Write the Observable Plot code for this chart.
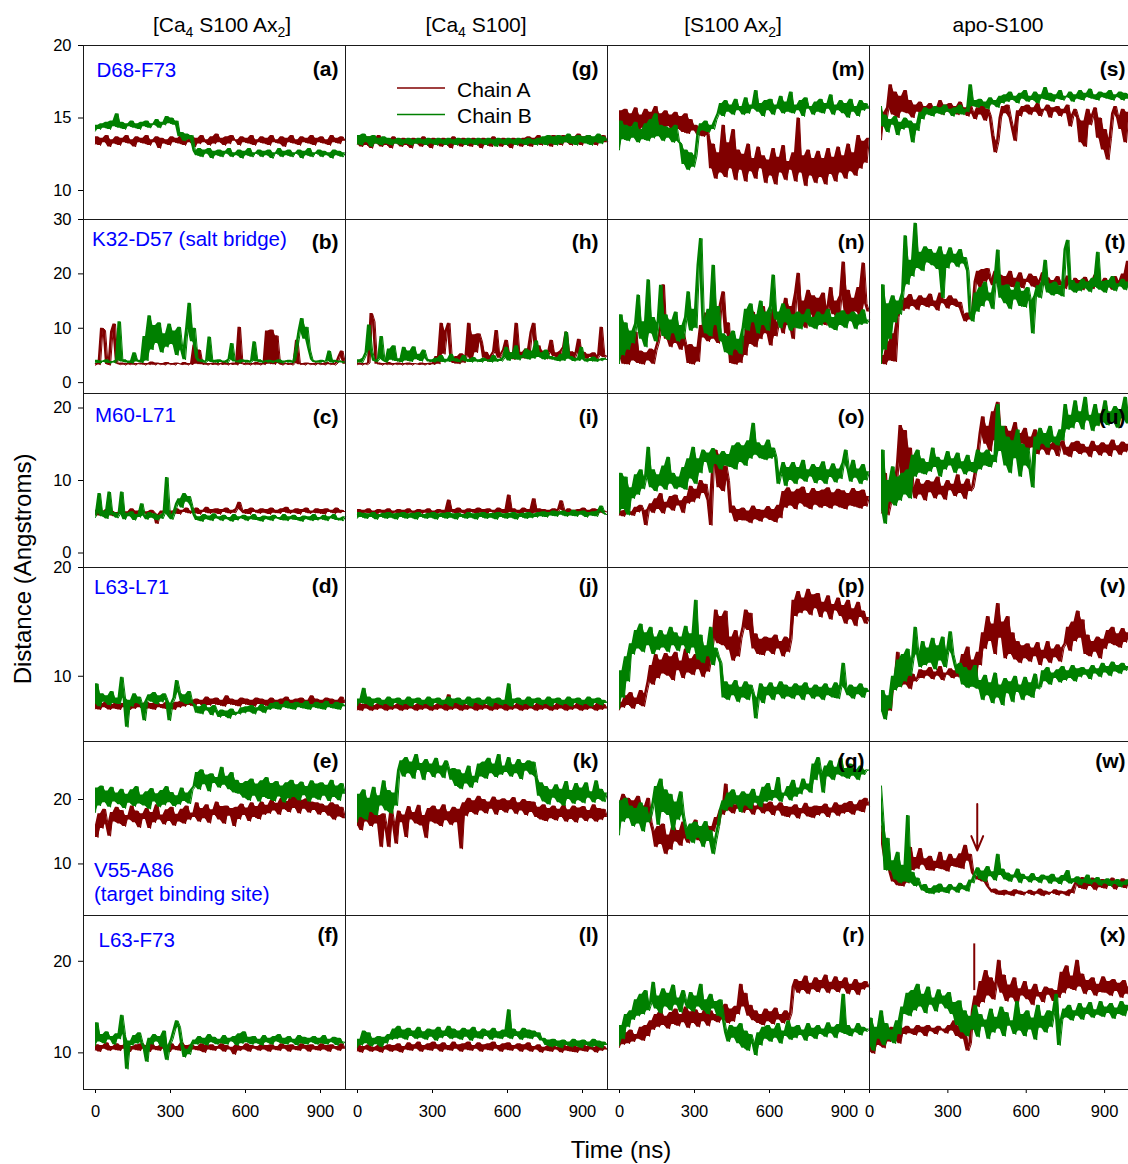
<!DOCTYPE html>
<html>
<head>
<meta charset="utf-8">
<script src="https://cdn.jsdelivr.net/npm/d3@7"></script>
<script src="https://cdn.jsdelivr.net/npm/@observablehq/plot@0.6"></script>
<style>
  html, body { margin: 0; padding: 0; background: #fff; }
  #fig { position: relative; width: 1128px; height: 1164px; overflow: hidden; background: #fff;
         font-family: "Liberation Sans", Arial, sans-serif; }
</style>
</head>
<body>
<div id="fig"></div>
<script>
// ---------------- DATA ----------------
// Sample times (ns): one reading every 10 ns, 0..1000
const TIME_NS = d3.range(0, 1001, 10);

const COLUMN_TITLES = [["[Ca","4"," S100 Ax","2","]"], ["[Ca","4"," S100]"], ["[S100 Ax","2","]"], ["apo-S100"]];
const ROW_LABELS = ["D68-F73", "K32-D57 (salt bridge)", "M60-L71", "L63-L71", "V55-A86\n(target binding site)", "L63-F73"];
const CHAINS = ["Chain A", "Chain B"];
const CHAIN_COLORS = ["#800000", "#008000"];
const PANEL_LETTERS = [["a","b","c","d","e","f"], ["g","h","i","j","k","l"], ["m","n","o","p","q","r"], ["s","t","u","v","w","x"]];
const Y_DOMAINS = [[8,20], [-2,30], [-2,22], [4,20], [2,29], [6,25]];
const Y_TICKS = [[10,15,20], [0,10,20,30], [0,10,20], [10,20], [10,20], [10,20]];
const X_TICKS = [0, 300, 600, 900];
const X_DOMAIN = [-48, 1000];
const X_DOMAIN_PANEL_X = [0, 1003];
const X_LABEL = "Time (ns)";
const Y_LABEL = "Distance (Angstroms)";
const ARROW_W = [{t: 383, from: 19.3, to: 12.1}];
const MARK_X = [{t: 401, from: 16.8, to: 21.9}];

// ---- Row 1: D68-F73 ----
const a_A = [13.2,13.7,13.1,13.6,13.3,13.8,13.0,13.5,13.2,13.7, 13.1,13.6,13.3,13.8,13.2,13.5,13.0,13.7,13.3,13.6, 13.2,13.8,13.1,13.5,13.3,13.7,12.9,13.6,13.2,13.5, 13.1,13.7,13.3,13.6,13.2,13.8,13.1,13.5,13.3,13.7, 13.0,13.6,13.2,13.8,13.3,13.5,13.1,13.7,13.2,13.9, 13.3,13.6,13.1,13.7,13.2,13.8,13.4,13.5,13.1,13.7, 13.3,13.6,13.2,13.8,13.1,13.5,13.3,13.7,13.2,13.6, 13.1,13.8,13.3,13.5,13.2,13.7,13.0,13.6,13.3,13.8, 13.2,13.5,13.1,13.7,13.3,13.6,13.2,13.8,13.1,13.6, 13.3,13.7,13.2,13.5,13.1,13.8,13.3,13.6,13.2,13.7, 13.4];
const a_B = [14.1,14.5,14.2,14.6,14.3,14.7,14.2,14.8,14.4,15.3, 14.3,14.7,14.2,14.6,14.4,14.8,14.3,14.6,14.2,14.7, 14.4,14.8,14.3,14.6,14.5,14.9,14.3,14.7,14.5,15.1, 14.6,15.0,14.5,14.8,13.7,14.0,13.4,13.9,13.5,13.8, 12.7,12.4,12.9,12.3,12.8,12.5,12.9,12.2,12.7,12.4, 12.8,12.3,12.7,12.5,12.9,12.3,12.6,12.4,12.8,12.2, 12.7,12.4,12.9,12.3,12.6,12.5,12.8,12.3,12.7,12.4, 12.8,12.2,12.6,12.5,12.9,12.3,12.7,12.4,12.8,12.3, 12.6,12.5,12.8,12.2,12.7,12.4,12.9,12.3,12.6,12.5, 12.8,12.3,12.7,12.4,12.6,12.2,12.8,12.4,12.7,12.3, 12.6];
const g_A = [13.2,13.8,13.0,13.6,13.1,13.7,12.9,13.5,13.2,13.8, 13.0,13.6,13.1,13.5,12.9,13.7,13.2,13.5,13.0,13.6, 13.1,13.5,12.9,13.6,13.2,13.5,13.0,13.7,13.1,13.5, 12.9,13.6,13.2,13.5,13.0,13.6,13.1,13.5,12.9,13.7, 13.2,13.5,13.0,13.6,13.1,13.5,13.0,13.6,13.2,13.5, 12.9,13.6,13.1,13.5,13.0,13.7,13.2,13.5,13.0,13.6, 13.1,13.5,12.9,13.6,13.2,13.5,13.0,13.6,13.1,13.7, 13.0,13.6,13.2,13.8,13.1,13.6,13.2,13.7,13.0,13.8, 13.2,13.7,13.1,13.8,13.3,13.6,13.1,13.7,13.2,13.9, 13.1,13.7,13.3,13.8,13.2,13.6,13.1,13.7,13.3,13.8, 13.3];
const g_B = [13.2,13.8,13.1,13.9,13.3,13.7,13.0,13.8,13.2,13.6, 13.1,13.7,13.2,13.6,13.1,13.5,13.2,13.6,13.1,13.5, 13.2,13.6,13.1,13.5,13.2,13.6,13.2,13.5,13.1,13.6, 13.2,13.5,13.1,13.6,13.2,13.5,13.1,13.6,13.2,13.5, 13.1,13.6,13.2,13.5,13.1,13.6,13.2,13.5,13.1,13.6, 13.2,13.5,13.1,13.6,13.2,13.5,13.0,13.6,13.2,13.5, 13.1,13.6,13.2,13.5,13.1,13.6,13.2,13.5,13.1,13.6, 13.2,13.5,13.1,13.6,13.2,13.7,13.1,13.8,13.2,13.7, 13.1,13.8,13.2,13.7,13.3,13.9,13.2,13.7,13.1,13.8, 13.3,13.7,13.2,13.8,13.1,13.7,13.3,13.9,13.2,13.7, 13.4];
const m_A = [13.0,15.5,14.2,15.6,14.0,15.3,14.4,15.7,14.1,15.2, 14.3,15.6,14.0,15.4,14.5,15.8,14.2,15.3,14.0,15.5, 14.4,15.2,13.9,15.4,14.2,15.1,14.0,15.3,13.9,14.9, 14.1,14.5,13.8,14.3,13.7,14.4,13.8,11.5,13.2,10.8, 12.6,11.2,14.5,10.9,13.3,11.5,14.2,10.7,12.8,11.4, 12.5,10.6,13.2,11.3,12.2,10.8,13.0,11.5,12.4,10.5, 12.1,11.0,12.9,10.4,12.3,11.2,13.1,10.7,12.0,11.4, 12.6,10.6,15.0,11.2,12.4,10.3,12.8,11.0,12.2,10.5, 12.7,10.9,12.2,10.4,12.9,11.1,12.3,10.6,13.0,11.2, 12.4,10.8,13.2,11.3,12.6,11.0,13.8,11.5,13.4,11.9, 13.6];
const m_B = [12.8,14.8,13.5,14.5,13.4,14.4,13.6,14.7,13.3,14.2, 13.5,14.6,13.4,14.9,13.6,15.3,13.7,14.5,13.4,14.4, 13.6,14.3,13.3,14.5,13.4,13.2,11.8,12.8,11.4,12.6, 11.6,12.4,14.0,14.6,14.1,14.8,14.0,14.5,14.2,14.9, 15.3,16.0,15.1,16.2,15.4,15.9,15.2,16.3,15.5,15.8, 15.2,16.4,15.3,15.9,15.6,16.9,15.4,16.0,15.1,16.2, 15.5,16.3,15.2,15.9,15.6,16.5,15.3,16.1,15.4,16.8, 15.3,15.9,15.5,16.2,15.1,16.4,15.6,15.8,15.2,16.1, 15.4,16.3,15.3,16.0,15.6,16.6,15.2,15.9,15.5,16.2, 15.3,16.0,15.0,16.3,15.4,15.8,15.1,16.2,15.5,16.0, 15.6];
const s_A = [13.5,15.4,14.6,15.7,17.3,15.2,16.8,15.0,16.5,15.4, 16.9,15.3,16.2,15.0,15.9,15.4,16.1,15.2,15.8,15.5, 16.0,15.3,15.7,15.5,16.2,15.2,15.9,15.4,16.0,15.3, 15.8,15.2,16.1,15.4,15.7,15.1,15.9,15.3,14.9,15.7, 15.2,15.9,14.8,15.6,15.1,13.8,12.6,13.4,15.0,15.8, 15.3,15.9,15.0,14.2,13.4,15.5,15.1,15.8,15.4,15.9, 15.2,15.7,15.4,16.0,15.1,15.6,15.5,15.9,15.0,15.7, 15.4,15.8,15.1,15.6,15.3,15.9,14.4,15.2,15.6,15.0, 13.3,14.8,13.0,15.6,14.5,15.2,15.7,13.6,15.0,12.8, 14.2,12.1,13.6,15.3,15.8,15.0,14.2,15.6,13.3,15.4, 15.1];
const s_B = [15.8,14.4,15.2,14.0,14.9,14.5,15.1,13.8,14.7,14.2, 15.0,14.3,14.8,13.3,14.6,14.1,15.4,14.9,15.7,15.2, 15.6,15.1,15.8,15.3,15.7,15.2,15.9,15.4,15.6,15.1, 15.7,15.3,15.9,15.2,15.6,15.4,17.3,15.8,16.2,15.7, 16.3,15.8,16.1,15.6,16.4,15.9,16.2,15.7,16.5,16.0, 16.6,16.1,16.8,16.2,16.5,16.0,16.7,16.3,16.9,16.1, 16.5,16.2,16.8,16.0,16.6,16.3,17.1,16.2,16.7,16.1, 16.6,16.3,16.9,16.2,16.5,16.4,16.8,16.1,16.6,16.3, 16.9,16.2,16.7,16.4,17.0,16.3,16.6,16.2,16.8,16.4, 16.7,16.3,16.9,16.2,16.6,16.4,16.8,16.2,16.7,16.3, 16.6];

// ---- Row 2: K32-D57 (salt bridge) ----
const b_A = [3.2,3.5,3.3,10.0,9.6,3.4,3.2,9.3,10.8,3.5, 3.3,3.6,3.2,3.5,3.3,3.7,3.2,3.5,3.4,3.6, 3.2,3.5,3.3,3.8,3.2,3.6,3.3,3.5,3.2,3.7, 3.3,3.5,3.2,3.6,3.4,3.3,3.7,3.2,3.5,3.3, 6.9,3.4,6.0,3.3,3.6,3.2,3.5,3.3,3.6,3.2, 3.5,3.3,3.7,3.2,3.5,3.3,3.6,3.2,10.2,3.4, 3.3,3.6,3.2,3.5,3.3,3.7,3.2,3.5,3.3,9.5, 3.4,9.7,3.3,8.6,3.5,3.2,3.6,3.3,3.5,3.2, 3.6,7.8,3.3,3.5,3.2,3.6,3.3,3.5,3.2,3.6, 3.3,3.5,3.2,3.7,3.3,3.5,3.2,3.6,4.8,5.8, 3.4];
const b_B = [3.6,4.1,3.5,4.0,3.7,4.2,3.5,3.9,3.6,4.1, 11.2,3.8,4.2,3.6,4.0,3.5,5.5,3.8,4.1,3.6, 8.5,4.0,12.3,6.0,10.5,7.2,11.0,5.5,9.0,6.5, 10.8,7.0,9.5,5.0,10.2,6.0,4.2,9.8,14.6,7.5, 10.0,4.5,3.8,4.2,3.6,4.0,8.4,3.7,4.1,3.6, 4.2,3.7,4.0,3.6,4.3,7.2,3.8,4.0,3.6,4.2, 3.7,4.1,3.6,4.0,7.5,3.8,4.2,3.6,4.0,3.7, 4.1,3.6,4.0,3.7,4.2,3.5,4.0,3.7,4.1,3.6, 4.0,6.5,9.5,11.8,8.0,10.2,6.0,4.2,3.7,4.0, 3.6,4.1,3.7,4.0,5.8,3.6,4.1,3.7,4.0,3.6, 3.9];
const h_A = [3.3,3.6,3.2,3.5,3.3,3.6,12.7,11.2,3.4,3.6, 3.2,3.5,3.3,3.7,3.2,3.5,3.3,3.6,3.2,3.5, 3.3,3.6,3.2,3.5,3.4,3.3,3.6,3.2,3.5,3.3, 3.6,3.3,4.8,3.4,10.9,5.2,9.5,10.9,4.0,3.5, 4.8,3.4,5.3,3.6,5.0,10.9,4.2,8.8,5.5,9.0, 7.5,4.5,5.6,3.8,4.9,5.7,9.6,4.5,5.2,6.0, 7.8,4.6,5.5,4.2,10.9,5.0,5.6,4.4,6.2,5.1, 9.2,10.9,5.5,6.8,4.6,5.8,4.3,5.6,7.8,4.8, 5.5,4.4,5.8,6.5,9.3,4.6,5.7,4.3,5.5,8.0, 4.7,5.6,4.3,5.2,4.6,5.5,4.2,5.0,10.2,4.6, 5.0];
const h_B = [3.7,4.2,3.6,4.5,5.5,10.6,6.0,4.0,3.8,4.4, 8.5,4.0,3.7,6.2,4.1,6.8,3.9,4.4,3.7,6.5, 4.0,5.8,3.8,6.6,4.2,5.2,3.9,6.0,4.4,3.8, 4.2,3.7,4.5,3.8,5.0,3.7,4.3,3.8,5.2,3.9, 4.4,3.7,4.1,5.0,3.8,4.3,3.7,4.6,3.8,4.2, 3.7,4.5,3.9,4.2,3.7,5.0,3.8,4.3,3.9,4.6, 6.5,4.0,5.5,4.3,6.8,4.1,5.0,4.5,6.2,4.2, 5.8,4.4,7.7,4.6,5.5,4.2,6.0,4.3,4.8,4.1, 4.6,3.9,5.2,4.0,9.3,4.3,4.8,3.9,4.5,4.0, 6.5,4.2,3.8,4.4,3.9,4.7,3.8,4.3,4.0,4.5, 4.1];
const n_A = [5.0,9.0,3.4,8.2,3.3,7.5,4.0,9.3,3.5,5.8, 3.3,5.5,4.0,6.2,3.4,5.9,7.5,10.0,18.0,8.0, 10.5,6.5,9.8,7.2,10.2,6.0,9.0,6.8,3.5,7.0, 3.3,6.5,3.8,10.5,8.2,12.8,7.5,13.5,8.0,12.0, 7.2,14.5,16.7,9.0,11.0,3.5,7.0,3.3,6.0,3.6, 8.5,5.0,11.5,7.0,13.0,6.5,10.5,8.0,14.0,9.0, 12.0,6.8,13.5,8.5,11.0,13.0,9.0,15.5,10.5,14.0, 8.0,16.5,20.1,11.0,15.0,10.0,17.0,12.5,16.0,10.5, 15.5,11.0,16.5,10.5,14.0,17.5,12.5,15.0,11.0,16.0, 22.2,12.5,17.0,11.5,15.5,13.0,17.5,12.0,22.0,14.5, 13.0];
const n_B = [3.5,12.5,5.0,11.0,6.0,9.5,7.2,10.8,16.1,8.0, 11.2,6.5,18.9,9.0,12.0,7.5,11.0,17.9,8.5,12.5, 7.8,11.5,9.0,13.0,7.5,10.5,8.0,12.0,16.7,9.5, 13.5,10.0,21.6,26.5,11.0,9.0,13.5,8.5,21.6,10.5, 14.0,7.5,9.0,5.5,8.5,5.0,9.5,6.0,8.0,5.2, 10.0,13.5,9.5,14.5,11.0,12.5,9.0,15.0,10.5,13.0, 9.5,14.0,19.8,11.5,13.0,10.0,14.5,11.0,13.5,9.5, 12.5,10.0,13.0,9.8,12.5,11.0,13.5,10.2,12.0,9.8, 13.0,10.5,12.5,11.0,13.5,10.0,12.0,9.6,12.8,10.5, 13.2,10.0,12.5,11.2,13.0,9.8,12.5,10.6,13.4,10.8, 11.5];
const t_A = [3.5,5.0,3.3,7.5,4.0,9.0,3.8,12.0,14.8,13.2, 15.5,13.5,16.2,14.0,15.2,13.3,16.0,14.2,15.5,13.8, 16.3,14.0,15.0,13.2,16.5,14.5,15.3,13.6,16.0,14.2, 15.4,13.8,14.8,12.5,11.2,12.8,11.5,13.0,18.5,20.5, 17.5,20.8,18.5,21.0,19.0,17.8,20.5,18.2,19.8,17.4, 19.5,17.8,20.5,17.5,19.2,18.0,20.2,17.3,19.0,18.4, 20.0,17.6,19.5,17.2,18.8,20.2,17.8,19.3,17.5,18.8, 17.0,19.5,17.8,18.5,17.2,19.6,18.0,17.4,19.2,17.6, 18.8,17.0,19.4,17.5,18.6,17.2,19.8,17.6,18.5,17.3, 19.2,17.7,18.4,17.0,19.5,17.8,18.7,20.0,17.6,22.3, 18.5];
const t_B = [3.5,18.0,6.0,14.5,8.0,16.0,11.0,15.0,12.5,16.5, 27.0,18.0,22.5,19.5,29.3,21.0,24.0,20.5,25.0,22.0, 24.5,21.5,23.8,20.8,25.0,15.5,23.5,21.0,24.8,22.0, 23.6,21.2,24.5,21.8,23.0,20.5,12.5,11.2,16.5,13.0, 17.5,14.0,18.5,15.0,16.5,13.5,19.0,24.4,15.5,17.8, 14.5,18.0,13.5,17.0,15.2,18.5,14.0,16.8,13.8,17.5, 15.0,9.0,16.0,17.8,15.5,18.5,22.5,16.5,18.2,16.0, 18.5,16.2,17.8,15.8,24.5,26.2,17.0,18.8,16.5,18.2, 16.8,19.0,17.2,18.5,16.6,19.2,17.5,24.0,17.0,18.6, 16.5,18.8,17.4,19.5,16.8,18.2,17.6,19.0,17.0,18.5, 17.8];

// ---- Row 3: M60-L71 ----
const c_A = [5.3,5.9,5.1,5.7,5.4,6.0,5.2,5.8,5.0,5.6, 5.4,5.9,5.2,5.7,5.5,6.1,5.3,5.8,5.1,5.9, 5.4,5.7,5.2,5.9,5.5,4.0,5.3,5.8,5.5,6.0, 5.2,5.8,5.4,6.1,5.3,5.9,5.6,6.2,5.4,5.8, 5.5,6.2,5.3,5.9,5.6,6.3,5.4,6.0,5.5,6.1, 5.3,6.0,5.6,6.2,5.4,5.9,5.5,6.1,7.0,5.8, 5.4,6.0,5.3,6.2,5.6,5.9,5.4,6.1,5.5,6.0, 5.3,6.2,5.5,5.9,5.4,6.1,5.6,6.3,5.4,5.9, 5.5,6.1,5.3,6.0,5.6,6.2,5.4,5.8,5.5,6.1, 5.4,6.0,5.3,6.1,5.6,5.9,5.4,6.2,5.5,5.9, 5.6];
const c_B = [4.9,5.6,8.2,5.0,5.8,4.7,8.4,5.2,5.6,4.8, 5.4,8.4,4.6,5.5,5.0,5.7,4.5,5.3,4.9,6.8, 5.1,4.6,5.6,4.8,5.4,4.5,5.2,4.7,5.5,10.4, 5.0,4.6,5.6,6.8,7.5,6.2,8.2,7.0,7.8,6.4, 5.2,4.5,5.0,4.3,5.3,4.6,5.1,4.4,5.4,4.7, 5.0,4.4,5.2,4.6,4.9,4.3,5.3,4.5,5.0,4.7, 5.2,4.4,5.0,4.6,5.3,4.5,4.9,4.3,5.1,4.6, 5.0,4.4,5.2,4.7,4.9,4.5,5.3,4.4,5.0,4.6, 5.2,4.5,4.9,4.3,5.1,4.6,5.0,4.4,5.3,4.5, 4.9,4.6,5.2,4.4,5.0,4.7,5.3,4.5,4.8,4.4, 5.0];
const i_A = [5.4,6.0,5.3,5.9,5.5,6.1,5.4,5.8,5.3,6.0, 5.5,5.9,5.3,6.1,5.4,5.8,5.5,6.0,5.3,5.9, 5.4,6.1,5.5,5.8,5.3,6.0,5.4,5.9,5.5,6.1, 5.3,5.8,5.4,6.0,5.5,5.9,5.4,7.3,5.6,6.0, 5.4,6.2,5.5,5.9,5.3,6.1,5.6,6.0,5.4,6.2, 5.5,6.0,5.3,6.1,5.6,5.9,5.4,6.2,5.5,6.0, 5.4,8.0,5.6,6.1,5.5,5.9,5.3,6.2,5.6,6.0, 5.4,7.5,5.5,6.1,5.3,6.0,5.6,5.9,5.4,6.1, 5.5,6.0,7.2,5.8,5.4,6.1,5.5,5.9,5.3,6.0, 5.5,6.2,5.4,5.9,5.6,6.1,5.3,6.0,5.5,5.8, 5.6];
const i_B = [4.8,5.6,4.9,5.5,4.7,5.4,4.9,5.6,4.6,5.3, 4.9,5.5,4.7,5.6,4.8,5.4,4.6,5.5,4.9,5.6, 4.7,5.4,4.8,5.5,4.6,5.6,4.9,5.3,4.7,5.5, 4.8,5.6,4.6,5.4,4.9,5.5,4.7,5.6,4.8,5.4, 4.6,5.5,4.9,5.3,4.7,5.6,4.8,5.4,4.6,5.5, 4.9,5.6,4.7,5.4,4.8,5.5,4.6,5.6,4.9,5.4, 4.7,5.5,4.8,5.6,4.6,5.4,4.9,5.5,4.7,5.6, 4.8,5.4,4.9,5.6,5.0,5.7,4.9,5.6,5.1,5.8, 5.0,5.7,5.2,5.8,5.0,5.6,5.1,5.9,5.0,5.7, 5.2,5.8,4.9,5.6,5.1,5.7,5.0,5.8,6.5,5.5, 5.2];
const o_A = [5.2,5.8,5.0,5.9,5.3,5.7,5.1,6.3,5.6,6.6, 5.8,3.8,6.0,6.8,5.5,7.5,6.0,8.2,5.4,7.0, 6.2,7.8,5.8,8.0,6.5,7.2,5.5,7.8,6.8,9.2, 7.0,8.8,7.5,10.0,8.2,9.5,7.2,3.8,12.5,14.2, 9.0,13.5,8.5,12.0,10.0,5.5,6.5,4.3,6.0,4.5, 6.2,4.4,5.8,4.1,6.5,4.6,6.0,4.3,5.9,4.8, 6.4,4.5,6.0,4.2,6.6,4.8,8.5,6.2,9.0,6.5, 8.4,6.0,8.8,6.8,9.1,6.3,8.2,6.0,8.9,6.6, 8.5,6.2,8.7,6.4,9.0,6.1,8.3,6.5,8.8,6.2, 8.6,6.0,8.2,6.5,8.9,6.3,8.5,6.1,8.7,6.4, 7.8];
const o_B = [5.5,11.0,6.0,10.5,5.2,9.0,7.5,10.8,8.0,11.5, 8.8,10.5,14.6,9.0,11.5,8.5,10.8,9.2,12.0,8.7, 13.2,9.5,11.0,8.8,10.5,9.0,11.8,8.7,13.0,10.2, 14.6,9.5,13.0,11.0,14.2,12.5,13.8,11.0,14.4,12.2, 13.5,11.5,14.0,12.0,13.6,11.8,14.8,11.5,15.2,12.5, 14.8,12.0,15.5,13.0,17.9,13.5,15.2,13.0,14.8,12.8, 15.6,13.0,14.5,13.2,9.5,11.0,12.5,9.2,11.8,10.0, 12.5,9.5,11.8,10.2,12.8,9.8,11.5,10.5,12.2,9.6, 11.8,10.0,12.6,9.5,11.5,10.4,12.3,9.7,11.6,10.2, 12.4,14.2,11.5,9.8,12.8,10.3,11.6,9.5,12.2,10.0, 11.2];
const u_A = [5.5,6.5,11.0,5.2,6.8,9.0,7.0,12.5,17.6,10.0, 16.9,8.5,14.5,9.0,7.5,10.2,8.0,9.5,7.2,10.0, 8.3,9.8,7.5,10.5,8.0,9.2,7.3,10.0,8.6,9.5, 7.8,10.8,8.2,9.5,7.4,10.2,8.5,9.0,11.0,13.5, 16.5,18.8,15.0,17.5,14.0,19.5,15.5,20.8,16.0,14.5, 17.5,14.0,16.8,15.2,18.0,13.8,16.5,15.0,17.2,14.2, 16.0,14.5,17.0,13.6,15.5,14.2,15.8,13.5,15.0,14.2, 15.6,13.3,14.8,15.5,13.5,14.6,13.2,15.2,14.0,15.4, 13.6,15.0,13.8,14.6,13.2,15.4,14.0,14.8,13.4,15.2, 13.8,14.9,13.3,15.6,14.1,14.8,13.5,15.3,13.9,15.0, 14.2];
const u_B = [6.0,14.2,4.0,10.0,7.0,11.9,6.5,10.5,7.2,11.0, 8.0,11.5,7.5,13.5,10.5,14.2,11.0,13.0,10.8,12.5, 11.2,14.5,11.8,13.2,10.5,12.8,11.5,14.0,12.0,13.0, 11.0,13.8,11.6,12.6,10.8,13.5,11.2,12.5,11.0,14.2, 11.5,13.8,12.0,14.2,11.8,13.5,12.5,20.5,14.0,17.5, 12.0,16.0,11.0,15.5,13.0,17.0,10.5,15.0,12.0,14.5, 11.5,9.0,16.0,14.2,17.2,15.0,16.5,14.5,17.5,15.2, 16.0,14.8,17.0,15.5,20.5,17.0,19.0,17.2,21.0,18.0, 19.5,17.0,21.5,18.2,19.0,16.8,20.5,17.5,19.2,18.0, 21.0,17.6,19.5,18.0,20.2,17.2,19.8,18.5,21.5,17.8, 19.0];

// ---- Row 4: L63-L71 ----
const d_A = [7.0,7.6,6.9,7.5,7.1,7.7,6.9,7.4,7.0,7.6, 6.9,7.5,7.1,7.6,6.9,7.4,7.0,7.7,7.1,7.5, 6.9,7.6,7.0,7.5,6.9,7.7,7.1,7.4,7.0,7.6, 7.0,7.5,6.9,7.6,7.1,7.7,7.2,7.9,7.3,7.8, 7.2,7.9,7.4,7.8,7.2,8.1,7.3,7.9,7.4,8.0, 7.3,7.8,7.2,8.2,7.4,7.9,7.3,7.8,7.2,8.0, 7.4,7.9,7.3,7.8,7.2,8.0,7.4,7.9,7.3,7.8, 7.2,8.0,7.4,7.8,7.3,7.9,7.2,8.1,7.4,7.8, 7.3,7.9,7.2,8.0,7.4,7.8,7.3,8.2,7.2,7.9, 7.4,7.8,7.3,8.0,7.2,7.9,7.4,7.8,7.3,8.1, 7.5];
const d_B = [7.5,9.3,7.2,8.4,7.6,8.2,7.3,8.6,7.5,8.0, 7.4,9.9,8.0,5.3,7.8,7.2,8.4,7.5,8.1,7.3, 5.9,7.8,8.3,7.6,8.5,7.4,8.2,7.6,8.4,7.8, 5.9,7.5,8.0,9.6,8.5,7.6,8.3,7.4,8.6,7.5, 7.4,6.6,7.2,6.5,7.4,6.8,7.1,6.4,7.3,6.7, 6.2,6.9,6.3,6.8,6.1,7.0,6.4,6.7,6.5,7.1, 6.6,7.2,6.7,7.3,6.5,7.1,6.8,7.4,6.6,7.2, 6.9,7.5,7.0,7.6,6.9,7.4,7.1,7.7,7.0,7.5, 6.9,7.6,7.1,7.5,7.0,7.7,6.9,7.4,7.1,7.6, 7.0,7.5,6.9,7.7,7.1,7.4,7.0,7.6,6.9,7.5, 7.2];
const j_A = [6.9,7.5,6.8,7.4,7.0,7.6,6.8,7.3,6.9,7.5, 7.0,7.4,6.8,7.6,6.9,7.3,7.0,7.5,6.8,7.4, 6.9,7.6,7.0,7.3,6.8,7.5,6.9,7.4,7.0,7.6, 6.8,7.3,6.9,7.5,7.0,7.4,6.8,8.3,6.9,7.5, 7.0,7.6,6.8,7.4,6.9,7.3,7.0,7.5,6.8,7.6, 6.9,7.4,7.0,7.3,6.8,7.5,6.9,7.6,7.0,7.4, 6.8,7.5,6.9,7.3,7.0,7.6,6.8,7.4,6.9,7.5, 7.0,7.3,6.8,7.6,6.9,7.4,7.0,7.5,6.8,7.3, 6.9,7.6,7.0,7.4,6.8,7.5,6.9,7.3,7.0,7.6, 6.8,7.4,6.9,7.5,7.0,7.3,6.8,7.6,6.9,7.4, 7.0];
const j_B = [7.3,7.9,7.5,8.9,7.4,8.1,7.2,7.9,7.5,8.0, 7.3,7.8,7.4,8.1,7.2,7.9,7.5,8.0,7.3,7.8, 7.4,8.1,7.2,7.9,7.5,8.0,7.3,7.8,7.4,8.1, 7.2,7.9,7.5,8.0,7.3,7.8,7.4,8.1,7.2,7.9, 7.5,8.0,7.3,7.8,7.4,8.1,7.2,7.9,7.5,8.0, 7.3,7.8,7.4,8.1,7.2,7.9,7.5,8.0,7.3,7.8, 7.4,9.3,7.2,7.9,7.5,8.0,7.3,7.8,7.4,8.1, 7.2,7.9,7.5,8.0,7.3,7.8,7.4,8.1,7.2,7.9, 7.5,8.0,7.3,7.8,7.4,8.1,7.2,7.9,7.5,8.0, 7.3,7.8,7.4,8.1,7.2,7.9,7.5,8.0,7.3,7.8, 7.5];
const p_A = [6.9,7.6,7.1,8.2,7.3,8.5,7.0,8.0,7.4,8.7, 7.2,8.4,9.5,11.0,9.2,12.0,9.8,11.5,10.2,12.1, 10.0,11.8,9.6,12.2,10.5,11.4,9.8,12.5,10.3,11.6, 10.1,12.0,10.6,11.5,9.9,12.3,10.4,11.8,13.5,16.1, 13.0,15.5,12.8,16.0,12.4,13.6,11.4,14.2,11.8,13.5, 14.5,16.1,14.2,15.8,12.5,13.9,12.0,13.4,11.9,13.6, 12.3,13.5,12.0,13.8,12.5,13.2,11.8,13.6,12.2,13.4, 17.0,15.5,17.8,15.8,17.2,16.0,18.0,15.6,17.5,16.2, 17.6,15.4,16.8,15.9,17.4,15.2,16.6,16.0,17.2,15.5, 16.5,14.8,17.0,15.2,16.2,14.6,16.8,15.4,16.0,14.8, 15.4];
const p_B = [7.0,10.5,8.0,11.8,9.5,13.0,12.0,14.2,12.5,14.8, 12.2,14.0,12.8,14.5,12.0,13.6,12.4,14.2,12.6,13.8, 12.2,14.5,12.8,14.0,12.3,13.6,12.8,14.6,12.1,13.9, 12.6,17.0,11.5,13.8,11.2,12.8,11.8,14.5,11.0,12.6, 11.8,11.2,8.0,9.5,7.8,9.2,8.2,9.6,7.6,9.0, 8.0,9.5,7.8,9.2,8.4,6.1,8.0,9.3,7.5,9.0, 8.2,9.4,7.8,9.0,8.3,9.5,7.9,9.2,8.1,9.0, 7.9,9.3,8.2,9.1,7.8,9.4,8.3,8.9,7.9,9.2, 8.1,9.0,7.8,9.3,8.2,8.9,8.0,9.4,7.9,9.1, 11.2,8.8,8.2,9.2,7.9,9.0,8.3,9.3,8.0,8.9, 8.5];
const v_A = [7.0,8.0,6.3,7.8,6.8,9.5,8.8,12.2,9.0,10.5, 9.2,11.0,8.8,10.2,9.5,9.8,10.6,9.8,10.5,10.0, 10.8,9.7,10.4,10.0,10.9,9.6,10.3,10.1,10.7,9.8, 10.5,9.9,10.8,12.0,9.2,12.7,10.0,11.5,9.4,12.2, 11.0,14.0,12.5,15.5,13.2,14.8,12.0,16.7,13.5,15.0, 11.6,15.5,12.0,14.0,11.5,13.2,11.2,12.8,11.6,13.0, 11.3,12.6,11.8,13.1,11.0,12.4,11.6,13.2,11.2,12.5, 11.7,12.9,11.3,12.6,13.0,14.5,12.3,15.0,13.2,16.0, 13.5,15.2,12.0,13.8,11.8,13.2,12.2,13.6,11.6,13.4, 12.5,14.2,13.0,14.5,12.8,13.9,12.6,14.4,13.1,14.0, 13.5];
const v_B = [6.8,8.7,6.0,8.2,7.0,10.0,8.7,11.5,9.0,12.0, 9.5,12.5,10.0,11.6,14.5,12.0,10.8,13.2,11.0,12.6, 11.2,13.5,10.6,12.8,11.4,13.6,10.8,12.4,14.1,12.0, 11.0,10.2,11.2,9.2,10.8,8.9,10.5,9.0,11.0,8.8, 9.6,7.8,10.1,8.2,9.4,7.5,10.3,8.0,9.2,7.3, 9.8,8.4,9.5,7.6,10.0,8.5,9.2,7.8,9.9,8.2, 9.4,8.0,10.2,8.8,9.0,10.5,9.5,10.8,9.2,10.3, 9.8,10.6,9.4,10.9,9.6,10.5,9.8,11.0,9.5,10.7, 9.9,10.8,10.1,10.6,9.7,11.0,10.2,10.7,9.9,11.2, 10.3,10.9,10.0,11.3,10.4,11.0,10.2,11.2,10.5,10.9, 10.8];

// ---- Row 5: V55-A86 (target binding site) ----
const e_A = [16.0,14.1,17.8,15.5,18.5,16.2,14.3,18.0,16.5,18.8, 16.2,18.3,15.8,17.5,16.8,19.0,16.4,18.2,15.6,17.8, 16.9,18.6,15.5,18.0,16.4,19.2,16.8,17.6,16.1,18.4, 16.6,18.8,15.9,17.7,16.5,18.5,16.2,19.0,16.8,17.9, 17.2,19.5,16.5,18.6,17.0,19.2,16.3,18.4,17.5,19.6, 16.8,18.9,16.2,19.0,17.4,18.6,15.8,18.8,16.9,19.3, 17.5,18.7,16.6,19.5,17.2,18.9,16.9,19.6,17.6,19.1, 17.8,19.9,18.2,19.4,17.6,20.2,18.4,19.7,18.0,20.6, 18.6,20.3,17.8,19.9,18.5,20.1,17.9,19.6,18.3,19.5, 17.6,19.3,18.0,19.0,17.4,19.5,16.8,19.2,17.3,18.8, 17.0];
const e_B = [18.0,21.8,19.0,22.1,19.5,21.3,18.8,21.9,19.6,21.0, 19.2,21.6,18.6,20.8,19.4,21.5,18.9,22.0,19.3,20.7, 19.0,21.2,18.5,21.7,19.6,20.9,18.8,21.4,19.1,22.0, 19.5,21.1,18.9,20.6,19.2,21.8,19.7,21.0,19.3,21.5, 22.0,24.2,21.5,24.6,22.3,23.8,21.2,24.0,22.5,23.4, 21.8,25.0,22.2,23.6,21.5,24.2,21.0,23.0,20.8,22.5, 20.2,22.8,19.8,23.2,20.5,22.4,19.6,22.9,20.3,23.4, 20.0,22.5,19.7,22.8,20.4,22.1,19.5,22.6,20.1,23.0, 20.3,22.3,19.8,22.7,20.6,22.0,19.6,22.9,20.2,22.4, 19.9,22.6,20.5,22.2,19.7,23.0,20.3,22.1,19.8,22.5, 20.8];
const k_A = [16.0,18.8,15.2,17.9,16.5,19.0,15.8,18.2,16.2,17.5, 12.6,17.8,15.5,12.6,18.5,16.0,13.1,18.2,16.4,17.6, 14.1,18.9,16.8,18.0,16.2,19.1,15.9,17.5,14.0,18.6, 16.5,19.0,16.2,18.4,15.8,19.2,16.7,18.1,16.0,18.8, 16.4,18.5,12.3,19.5,17.4,20.2,18.0,19.8,17.6,20.5, 18.2,20.0,17.8,19.6,18.5,20.4,17.6,19.9,18.3,20.1, 17.9,19.8,18.4,20.3,17.7,19.5,18.2,20.0,17.5,19.7, 18.0,19.6,17.2,18.8,16.8,19.2,16.6,18.6,17.0,19.0, 16.7,18.5,17.2,19.1,16.5,18.4,16.9,19.0,16.4,18.7, 17.1,18.9,16.6,18.3,17.0,19.2,16.5,18.6,16.8,18.5, 17.2];
const k_B = [16.5,20.8,17.2,21.5,16.8,20.2,18.0,21.9,17.5,20.6, 19.0,22.9,18.2,21.4,17.8,21.0,19.0,24.5,26.0,23.5, 26.5,24.0,25.8,23.2,27.0,24.5,25.6,23.0,26.2,24.2, 25.5,23.4,26.4,24.0,25.2,23.3,26.0,24.6,23.0,24.8, 22.0,24.6,21.6,24.0,22.4,25.2,21.8,23.6,22.6,25.5, 23.5,25.8,23.2,26.4,24.0,25.5,23.4,27.0,23.8,25.2, 24.2,26.5,23.5,25.4,24.0,26.2,23.1,25.6,24.4,26.0, 23.8,25.8,23.4,20.5,22.6,19.6,22.0,19.2,21.5,20.2, 22.3,19.5,21.6,19.0,22.8,20.0,21.4,19.3,22.5,19.8, 21.8,19.4,22.6,20.2,21.2,19.5,22.9,20.0,21.6,19.6, 21.0];
const q_A = [19.5,17.2,20.8,18.0,20.2,17.5,19.8,16.8,20.5,18.2, 19.0,17.0,20.2,16.5,15.0,12.6,15.8,13.0,16.2,11.5, 14.5,12.2,16.0,13.4,15.2,12.8,16.5,14.0,13.2,16.0, 14.5,16.8,13.6,15.5,13.0,16.2,14.2,15.8,15.0,17.2, 16.0,18.5,17.6,22.4,18.2,19.6,17.8,19.2,18.5,20.0, 17.9,19.4,18.3,20.2,17.6,19.0,18.4,19.8,17.8,19.3, 18.1,19.6,17.5,19.0,18.2,19.5,17.4,18.9,17.2,18.8, 17.6,19.2,17.0,18.6,17.8,19.4,17.3,18.8,17.1,19.0, 17.5,18.9,17.8,19.3,17.2,18.7,17.9,19.5,17.4,19.1, 17.8,19.4,18.0,19.7,17.6,19.2,18.2,19.9,18.0,20.2, 19.0];
const q_B = [14.5,19.8,16.5,20.2,17.0,19.0,15.8,18.6,16.2,19.5, 15.0,18.8,16.4,17.5,19.5,22.0,16.0,23.2,18.0,21.5, 17.5,20.8,15.2,19.6,16.8,21.2,17.6,15.5,13.8,16.2, 13.2,16.5,14.0,15.8,12.6,16.6,13.5,15.2,11.5,13.8, 15.8,18.5,19.8,18.2,21.0,18.8,21.5,19.2,20.6,18.0, 21.2,19.0,20.8,18.5,21.6,19.4,20.5,18.8,21.9,19.6, 22.5,19.8,21.4,20.2,23.4,19.6,21.0,20.5,22.0,19.8, 23.0,20.4,21.8,20.8,23.2,21.5,22.4,21.0,25.5,23.0, 26.5,24.0,21.0,25.2,23.5,26.0,23.0,25.0,23.8,26.4, 23.5,24.8,23.2,25.5,23.6,24.6,23.0,25.2,23.8,24.5, 24.6];
const w_A = [15.9,13.0,10.5,12.0,8.6,7.2,8.2,6.6,7.8,6.5, 7.6,7.0,12.6,9.0,11.0,9.2,12.4,9.8,10.8,9.0, 11.2,8.9,10.4,9.3,11.8,9.1,10.5,8.8,11.5,9.6, 10.8,9.4,11.6,9.2,12.9,10.4,11.5,8.5,8.0,7.5, 8.4,7.2,7.8,6.5,6.0,5.5,6.1,5.2,5.8,5.1, 5.9,5.2,5.7,5.0,6.0,5.3,5.8,5.1,5.6,5.4, 5.9,5.1,5.7,5.3,6.1,5.0,5.8,5.2,5.6,5.4, 6.0,5.1,5.8,5.3,5.7,5.0,6.0,5.4,6.8,7.6, 6.2,7.9,6.0,7.2,6.5,7.8,5.9,7.4,6.3,7.6, 6.1,7.3,6.6,7.8,6.0,7.1,6.4,7.7,6.2,7.5, 6.8];
const w_B = [22.1,16.7,9.0,14.0,8.9,10.5,7.5,11.8,7.0,9.8, 7.2,17.5,7.0,8.7,6.5,7.8,6.6,5.8,6.8,5.4, 6.2,5.3,6.6,5.5,6.9,5.6,6.3,5.4,6.8,5.9, 6.4,5.5,7.0,6.0,6.6,5.7,7.5,7.0,8.5,9.4, 7.6,8.9,7.2,9.6,8.0,8.8,7.4,11.5,8.2,9.2, 7.5,8.6,7.2,8.3,7.8,9.2,7.0,8.4,7.6,8.0, 7.1,8.5,7.4,7.9,7.0,8.3,7.5,8.1,6.9,8.4, 7.2,7.8,6.8,8.2,7.3,9.0,6.9,7.7,7.1,8.0, 6.7,7.6,7.0,8.3,6.8,7.5,7.1,7.9,6.6,7.4, 6.9,7.7,6.5,7.3,6.8,7.6,6.4,7.2,6.7,7.5, 6.9];

// ---- Row 6: L63-F73 ----
const f_A = [10.3,10.9,10.1,10.8,10.4,11.1,10.2,10.7,10.3,11.0, 10.2,10.8,10.4,11.2,10.1,10.7,10.3,10.9,10.2,11.0, 10.4,10.8,10.1,11.1,10.3,10.7,10.2,10.9,10.4,10.8, 10.1,11.0,10.3,10.7,10.2,11.1,10.4,10.8,10.1,10.9, 10.3,10.7,10.2,11.0,10.0,10.8,10.3,10.9,10.2,10.7, 10.4,11.0,10.1,10.8,10.3,10.6,9.8,10.9,10.2,10.7, 10.3,11.0,10.1,10.8,10.4,10.7,10.2,10.9,10.3,10.8, 10.1,10.9,10.3,10.7,10.2,11.0,10.4,10.8,10.1,10.9, 10.3,10.7,10.2,11.0,10.4,10.8,10.1,10.9,10.3,10.7, 10.2,11.0,10.3,10.8,10.1,10.9,10.4,10.7,10.2,11.0, 10.4];
const f_B = [10.8,13.3,11.2,12.0,11.0,12.3,11.4,11.8,10.9,12.1, 11.5,14.1,12.0,8.2,11.3,10.8,11.9,11.0,12.2,11.1, 10.5,9.0,11.6,10.9,12.0,11.2,11.8,10.6,12.4,9.2, 10.8,11.5,12.5,13.5,12.8,11.0,9.5,10.4,9.8,10.9, 11.4,10.9,11.8,11.0,11.6,10.8,12.0,11.1,11.7,10.9, 11.5,11.0,11.9,10.9,11.6,11.2,11.8,10.8,12.1,11.0, 12.3,11.1,11.7,10.9,11.8,11.0,11.5,10.8,11.9,11.1, 11.6,10.9,11.8,11.2,12.0,11.0,11.6,10.9,11.8,11.1, 11.5,10.8,11.9,11.0,11.7,10.9,11.6,11.1,11.8,10.9, 11.6,11.0,11.9,10.9,11.5,11.1,11.7,10.8,11.6,11.0, 11.2];
const l_A = [10.2,10.8,10.0,10.7,10.3,10.9,10.1,10.6,10.2,10.8, 10.0,10.7,10.3,10.9,10.1,10.8,10.2,11.0,10.0,10.7, 10.3,11.1,10.2,10.9,10.4,11.2,10.1,10.8,10.3,11.0, 10.2,11.2,10.4,10.9,10.1,11.1,10.3,10.8,10.2,11.2, 10.4,10.9,10.1,11.0,10.3,11.2,10.2,10.8,10.4,11.1, 10.1,10.9,10.3,11.0,10.2,11.2,10.4,10.8,10.1,11.0, 10.3,11.1,10.2,10.8,10.4,11.0,10.1,10.9,10.3,11.1, 10.1,10.7,10.3,10.9,10.0,10.6,10.2,10.8,10.1,10.7, 10.3,10.6,10.0,10.8,10.2,10.7,10.1,10.9,10.0,10.6, 10.2,10.8,10.1,10.7,10.3,10.6,10.0,10.8,10.2,10.7, 10.3];
const l_B = [10.6,11.5,10.8,12.4,11.0,12.2,10.7,11.6,10.9,11.8, 10.6,11.7,11.0,12.0,11.4,12.6,11.5,12.9,11.6,12.5, 11.4,12.7,11.8,12.4,11.5,12.8,11.6,12.3,11.4,12.6, 11.7,12.5,11.3,12.8,11.6,12.4,11.8,12.9,11.5,12.6, 11.6,12.4,11.4,12.7,11.7,12.5,11.3,12.8,11.6,12.3, 11.5,12.6,11.8,12.4,11.4,12.7,11.6,12.3,11.5,12.5, 11.7,14.7,11.5,12.6,11.8,12.3,11.4,12.7,11.6,12.5, 11.5,12.4,11.7,12.2,11.3,11.6,10.8,11.4,10.6,11.5, 10.7,11.3,10.5,11.4,10.8,11.2,10.6,11.5,10.7,11.3, 10.5,11.4,10.8,11.2,10.6,11.5,10.7,11.3,10.5,11.2, 10.8];
const r_A = [10.6,11.8,10.9,12.2,11.0,12.5,11.2,12.0,11.5,12.8, 11.3,13.0,11.8,13.5,12.5,14.2,12.8,14.6,13.0,14.0, 12.6,14.4,13.1,14.8,12.9,14.2,13.3,15.0,12.7,14.5, 13.2,14.7,12.8,14.3,13.4,14.9,12.9,14.6,13.5,14.2, 13.3,15.0,13.6,15.3,13.2,14.8,13.4,15.1,14.2,17.5, 15.0,16.5,14.0,15.2,13.5,14.6,13.2,14.2,13.0,14.8, 13.4,14.5,13.1,14.9,13.6,14.2,13.2,14.6,13.5,14.3, 17.2,18.0,16.5,17.8,16.8,18.4,16.4,17.6,16.9,18.2, 16.6,17.9,17.0,18.5,16.5,17.7,16.9,18.3,16.6,17.8, 17.0,18.2,16.4,17.5,16.8,18.0,16.3,17.6,16.9,17.8, 17.1];
const r_B = [10.8,13.0,11.5,14.2,12.8,14.6,13.6,15.8,14.0,16.4, 14.2,16.8,14.6,15.5,17.7,14.8,16.2,14.3,17.0,15.0, 16.5,14.6,17.4,15.2,16.0,14.4,16.8,15.5,14.8,16.6, 14.5,16.2,15.0,17.5,14.6,15.8,14.2,16.4,14.8,15.6, 14.0,15.8,13.8,12.2,11.2,13.0,11.6,12.8,11.0,13.2, 10.5,12.4,10.2,12.0,11.0,9.7,12.2,10.8,12.8,11.5, 13.0,11.2,12.6,11.6,13.2,11.0,12.4,11.8,13.5,11.4, 12.8,11.6,13.0,11.9,12.5,11.3,13.2,11.8,12.7,11.5, 13.0,12.0,12.6,11.7,13.3,12.1,12.8,11.6,13.1,12.2, 16.4,12.0,13.0,11.8,12.6,12.2,13.2,11.9,12.8,12.3, 12.6];
const x_A = [10.2,11.5,9.9,12.0,10.8,11.6,10.5,12.4,11.2,12.8, 11.4,12.5,11.0,12.7,12.0,12.9,12.1,12.6,11.9,13.0, 12.2,12.8,11.8,13.0,12.3,12.7,12.0,12.9,12.4,12.6, 12.1,13.0,12.4,13.5,11.8,12.9,11.5,12.4,10.2,11.0, 14.6,16.2,15.0,17.8,15.5,19.0,16.2,18.2,15.8,17.6, 20.1,16.5,18.5,15.6,17.4,16.0,18.2,15.4,17.0,16.2, 17.8,15.8,16.9,15.2,17.5,16.1,16.6,15.5,17.2,16.3, 17.0,15.6,16.8,16.0,18.8,16.5,19.5,17.0,18.4,16.8, 20.1,17.2,18.6,16.4,17.9,16.8,18.2,16.2,17.5,16.6, 18.3,16.5,17.8,16.2,18.0,16.7,17.6,16.0,17.9,16.4, 17.2];
const x_B = [11.0,13.8,10.2,12.8,11.5,14.6,10.8,13.2,11.4,12.5, 11.0,13.5,12.0,15.0,14.2,16.5,14.0,16.8,14.6,17.5, 15.0,16.4,14.3,17.2,15.2,16.0,14.5,16.9,15.3,16.2, 14.8,16.6,14.2,15.5,13.0,15.7,12.2,14.6,11.8,14.0, 12.5,15.2,11.7,14.2,12.8,13.6,11.5,14.8,12.2,13.9, 12.6,15.0,11.8,14.4,12.9,13.5,12.0,15.6,12.4,14.2, 11.8,14.6,12.5,13.8,11.4,15.2,12.7,14.0,12.2,14.6, 12.8,14.5,16.4,10.8,13.6,14.8,13.8,15.2,13.5,14.6, 14.0,15.4,13.6,14.9,14.2,15.5,13.8,14.7,14.1,15.6, 13.9,15.0,14.3,15.4,13.7,14.9,14.2,15.6,14.0,15.2, 14.6];

const SERIES = {
  a:[a_A,a_B], b:[b_A,b_B], c:[c_A,c_B], d:[d_A,d_B], e:[e_A,e_B], f:[f_A,f_B],
  g:[g_A,g_B], h:[h_A,h_B], i:[i_A,i_B], j:[j_A,j_B], k:[k_A,k_B], l:[l_A,l_B],
  m:[m_A,m_B], n:[n_A,n_B], o:[o_A,o_B], p:[p_A,p_B], q:[q_A,q_B], r:[r_A,r_B],
  s:[s_A,s_B], t:[t_A,t_B], u:[u_A,u_B], v:[v_A,v_B], w:[w_A,w_B], x:[x_A,x_B]
};

// ---------------- LAYOUT ----------------
const FONT = "Liberation Sans, Arial, sans-serif";
const COL_X = [83, 345, 607, 869];
const ROW_Y = [45, 219, 393, 567, 741, 915];
const PW = 262, PH = 174;
const LETTER_INSET = [7, 9, 5, 6];
const LETTER_DY = [24, 23, 24, 19, 20, 20];
const LABEL_POS = [[13, 24.3, "top-left"], [8.5, 19.3, "top-left"], [11.5, 21, "top-left"], [10.5, 19.3, "top-left"], [10.5, -34, "bottom-left"], [15, 24.3, "top-left"]];
const fig = document.getElementById("fig");

// Each reading, plus the span it covers to the next reading (the fluctuation band of the trace)
function traceRows(arr) {
  return TIME_NS.map((t, i) => {
    const v = arr[i], nxt = i + 1 < arr.length ? arr[i + 1] : v;
    return {t, v, lo: Math.min(v, nxt), hi: Math.max(v, nxt)};
  }).filter(d => d.v != null);
}

for (let c = 0; c < 4; c++) {
  for (let r = 0; r < 6; r++) {
    const L = PANEL_LETTERS[c][r];
    const [A, B] = SERIES[L];
    if (A.length !== TIME_NS.length || B.length !== TIME_NS.length) console.error("length", L, A.length, B.length);
    const ml = c === 0 ? COL_X[0] : 0;
    const mb = r === 5 ? 60 : 0;
    const marks = [];
    [A, B].forEach((arr, k) => {
      const rows = traceRows(arr);
      marks.push(Plot.areaY(rows, {x: "t", y1: "lo", y2: "hi", fill: CHAIN_COLORS[k]}));
      marks.push(Plot.line(rows, {x: "t", y: "v", stroke: CHAIN_COLORS[k], strokeWidth: 1, strokeLinejoin: "round"}));
    });
    marks.push(
      Plot.frame({stroke: "#1a1a1a", strokeWidth: 1}),
      Plot.text([`(${L})`], {frameAnchor: "top-right", dx: -LETTER_INSET[c], dy: LETTER_DY[r],
        textAnchor: "end", lineAnchor: "middle", fontSize: 21, fontWeight: "bold", fill: "#000"})
    );
    if (c === 0) {
      const [dx, dy, fa] = LABEL_POS[r];
      marks.push(Plot.text([ROW_LABELS[r]], {frameAnchor: fa, dx, dy, textAnchor: "start", lineAnchor: "middle",
        lineHeight: 1.14, fontSize: 20.5, fill: "#0000ff"}));
    }
    if (L === "w") marks.push(Plot.arrow(ARROW_W, {x1: "t", x2: "t", y1: "from", y2: "to", stroke: CHAIN_COLORS[0], strokeWidth: 2, headLength: 12, headAngle: 45}));
    if (L === "x") marks.push(Plot.ruleX(MARK_X, {x: "t", y1: "from", y2: "to", stroke: CHAIN_COLORS[0], strokeWidth: 2}));
    const svg = Plot.plot({
      width: ml + PW, height: PH + mb,
      marginLeft: ml, marginRight: 0, marginTop: 0, marginBottom: mb,
      x: {domain: L === "x" ? X_DOMAIN_PANEL_X : X_DOMAIN, axis: r === 5 ? "bottom" : null, ticks: X_TICKS, tickSize: 4, tickPadding: 12, label: null},
      y: {domain: Y_DOMAINS[r], axis: c === 0 ? "left" : null, ticks: Y_TICKS[r], tickSize: 5, tickPadding: 7, label: null},
      style: {background: "transparent", overflow: "visible", fontSize: "16.5px", fontFamily: FONT, color: "#000"},
      marks
    });
    svg.style.position = "absolute";
    svg.style.left = (COL_X[c] - ml) + "px";
    svg.style.top = ROW_Y[r] + "px";
    svg.style.maxWidth = "none";
    fig.appendChild(svg);
  }
}

// overlay: column titles, legend, axis titles
const ov = d3.create("svg").attr("width", 1128).attr("height", 1164)
  .style("position", "absolute").style("left", "0px").style("top", "0px").style("pointer-events", "none")
  .attr("font-family", FONT).attr("fill", "#000");
const TITLE_X = [222, 476, 733, 998];
COLUMN_TITLES.forEach((segs, c) => {
  const t = ov.append("text").attr("x", TITLE_X[c]).attr("y", 32).attr("text-anchor", "middle").attr("font-size", 21);
  segs.forEach((s, i) => {
    const sp = t.append("tspan").text(s);
    if (i % 2 === 1) sp.attr("font-size", 14).attr("dy", 5);
    else if (i > 0) sp.attr("dy", -5);
  });
});
const LEG_Y = [88, 114.5];
CHAINS.forEach((name, i) => {
  ov.append("line").attr("x1", 397).attr("x2", 445).attr("y1", LEG_Y[i]).attr("y2", LEG_Y[i])
    .attr("stroke", CHAIN_COLORS[i]).attr("stroke-width", 1.5);
  ov.append("text").attr("x", 457).attr("y", LEG_Y[i] + 8.5).attr("font-size", 21).text(name);
});
ov.append("text").attr("x", 621).attr("y", 1158).attr("text-anchor", "middle").attr("font-size", 24).text(X_LABEL);
ov.append("text").attr("transform", "translate(30.5,569) rotate(-90)").attr("text-anchor", "middle").attr("font-size", 24).text(Y_LABEL);
fig.appendChild(ov.node());
</script>
</body>
</html>
